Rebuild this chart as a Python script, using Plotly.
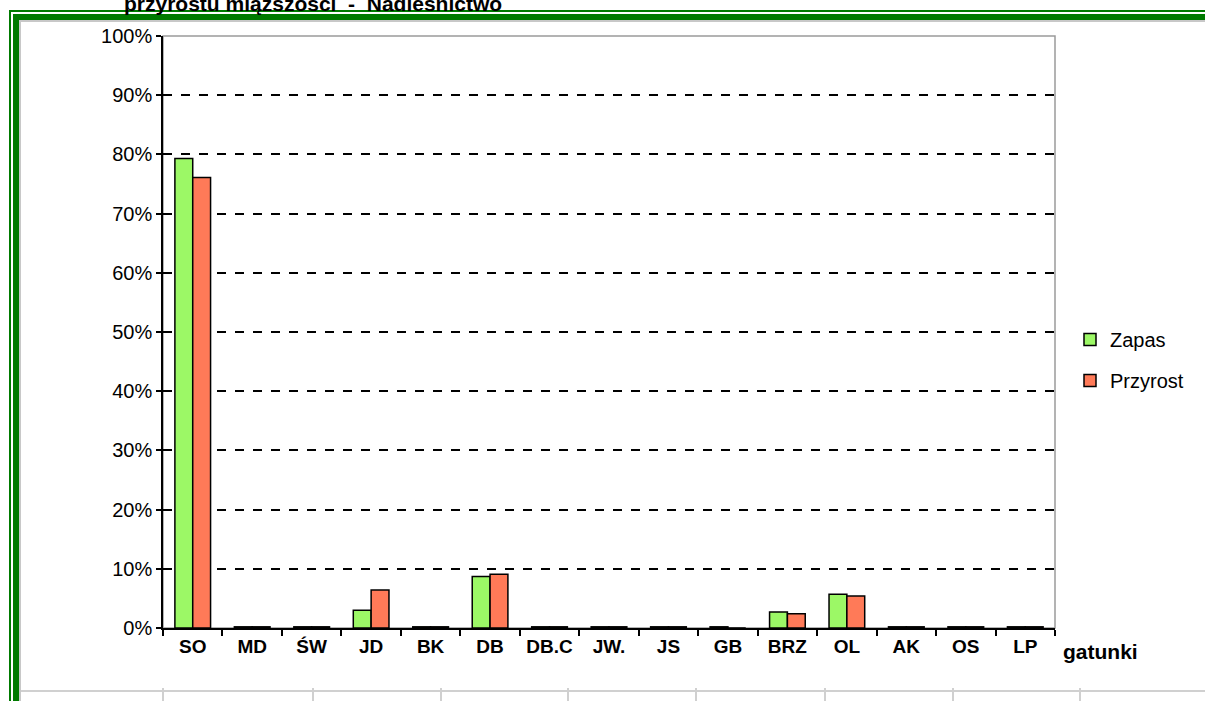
import plotly.graph_objects as go

categories = ["SO", "MD", "ŚW", "JD", "BK", "DB", "DB.C", "JW.", "JS", "GB", "BRZ", "OL", "AK", "OS", "LP"]
zapas = [79.3, 0.2, 0.2, 3.0, 0.2, 8.7, 0.2, 0.2, 0.2, 0.2, 2.7, 5.7, 0.2, 0.2, 0.2]
przyrost = [76.1, 0.2, 0.2, 6.4, 0.2, 9.1, 0.2, 0.2, 0.2, 0.0, 2.4, 5.4, 0.2, 0.2, 0.2]
y_ticks = list(range(0, 101, 10))
y_ticktext = [f"{v}%" for v in y_ticks]

W, H = 1205, 701
L, R, T, B = 163, 1055, 36, 628
PW, PH = R - L, B - T

def px(x):
    return (x - L) / PW

def py(y):
    return (B - y) / PH

FONT = "Liberation Sans, Arial, sans-serif"

fig = go.Figure()
fig.add_trace(go.Bar(name="Zapas", x=categories, y=zapas,
                     marker=dict(color="#9CF866", line=dict(color="black", width=1.5)),
                     legendgroup="a"))
fig.add_trace(go.Bar(name="Przyrost", x=categories, y=przyrost,
                     marker=dict(color="#FF7A58", line=dict(color="black", width=1.5)),
                     legendgroup="b"))

shapes = []
shapes.append(dict(type="rect", xref="paper", yref="paper", x0=0, x1=1, y0=0, y1=1,
                   line=dict(color="#9a9a9a", width=1.5), layer="below"))
green = "#007A00"
shapes.append(dict(type="line", xref="paper", yref="paper", x0=px(9), x1=px(1210), y0=py(11), y1=py(11),
                   line=dict(color=green, width=2)))
shapes.append(dict(type="line", xref="paper", yref="paper", x0=px(10), x1=px(10), y0=py(11), y1=py(705),
                   line=dict(color=green, width=2)))
shapes.append(dict(type="line", xref="paper", yref="paper", x0=px(13), x1=px(1210), y0=py(17), y1=py(17),
                   line=dict(color=green, width=6)))
shapes.append(dict(type="line", xref="paper", yref="paper", x0=px(16), x1=px(16), y0=py(14), y1=py(705),
                   line=dict(color=green, width=6)))
shapes.append(dict(type="line", xref="paper", yref="paper", x0=px(19), x1=px(1210), y0=py(21), y1=py(21),
                   line=dict(color="#c8c8c8", width=2)))
shapes.append(dict(type="line", xref="paper", yref="paper", x0=px(20), x1=px(20), y0=py(20), y1=py(705),
                   line=dict(color="#c8c8c8", width=2)))
shapes.append(dict(type="line", xref="paper", yref="paper", x0=px(21), x1=px(1210), y0=py(691), y1=py(691),
                   line=dict(color="#d0d0d0", width=2)))
for xt in [163, 313, 441, 568, 696, 825, 953, 1080]:
    shapes.append(dict(type="line", xref="paper", yref="paper", x0=px(xt), x1=px(xt), y0=py(688), y1=py(705),
                       line=dict(color="#d0d0d0", width=2)))

annotations = [
    dict(text="gatunki", xref="paper", yref="paper", x=px(1061), y=py(651), xanchor="left", yanchor="middle",
         showarrow=False, font=dict(family=FONT, size=21, color="black", weight="bold")),
    dict(text="przyrostu miąższości  -  Nadleśnictwo", xref="paper", yref="paper", x=px(122), y=py(3),
         xanchor="left", yanchor="middle", showarrow=False,
         font=dict(family=FONT, size=21, color="black", weight="bold")),
]

fig.update_layout(
    width=W, height=H,
    margin=dict(l=L, r=W - R, t=T, b=H - B, pad=0),
    paper_bgcolor="white", plot_bgcolor="white",
    barmode="group", bargap=0.40, bargroupgap=0,
    font=dict(family=FONT, size=20, color="black"),
    showlegend=True,
    legend=dict(x=px(1070), y=py(320), xanchor="left", yanchor="top",
                font=dict(family=FONT, size=20, color="black"),
                tracegroupgap=12, traceorder="grouped", bgcolor="rgba(0,0,0,0)"),
    xaxis=dict(showline=True, linecolor="black", linewidth=1.5, ticks="outside", ticklen=6,
               tickcolor="black", tickwidth=1.5, tickson="boundaries", showgrid=False,
               tickfont=dict(family=FONT, size=19, color="black", weight="bold")),
    yaxis=dict(range=[0, 100], tickvals=y_ticks, ticktext=y_ticktext, showline=True,
               linecolor="black", linewidth=1.5, ticks="outside", ticklen=5, tickcolor="black",
               tickwidth=1.5, showgrid=True, gridcolor="black", gridwidth=2, griddash="dash",
               zeroline=False, tickfont=dict(family=FONT, size=20, color="black")),
    shapes=shapes, annotations=annotations,
)

fig.write_html("out.html", config={"displayModeBar": False},
               post_script="document.body.style.margin='0';document.body.style.overflow='hidden';")
